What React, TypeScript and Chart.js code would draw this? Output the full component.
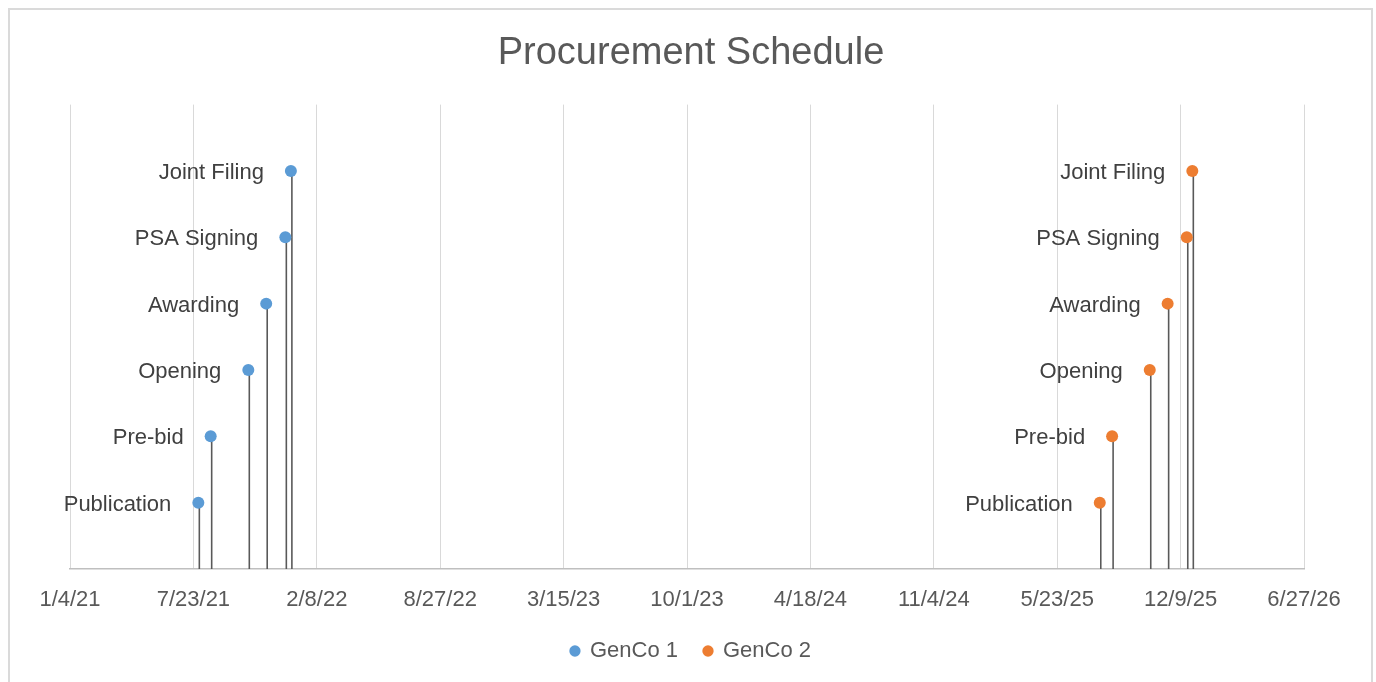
import React, { useEffect, useRef } from 'react';
import { Chart, registerables } from 'chart.js';

Chart.register(...registerables);

const milestones = ['Publication', 'Pre-bid', 'Opening', 'Awarding', 'PSA Signing', 'Joint Filing'];
const milestoneLevels = [1, 2, 3, 4, 5, 6];
const genco1Dates = ['2021-07-31', '2021-08-20', '2021-10-20', '2021-11-18', '2021-12-19', '2021-12-28'];
const genco2Dates = ['2025-07-31', '2025-08-20', '2025-10-20', '2025-11-18', '2025-12-19', '2025-12-28'];
const tickLabels = ['1/4/21', '7/23/21', '2/8/22', '8/27/22', '3/15/23', '10/1/23', '4/18/24', '11/4/24', '5/23/25', '12/9/25', '6/27/26'];
const seriesNames = ['GenCo 1', 'GenCo 2'];
const seriesColors = ['#5B9BD5', '#ED7D31'];

const FONT = '"Liberation Sans", Arial, sans-serif';

function isoToDay(s: string): number {
  const [y, m, d] = s.split('-').map(Number);
  return Date.UTC(y, m - 1, d) / 86400000;
}
function mdyToDay(s: string): number {
  const [m, d, y] = s.split('/').map(Number);
  return Date.UTC(2000 + y, m - 1, d) / 86400000;
}

const tickDays = tickLabels.map(mdyToDay);

const dropLines = {
  id: 'dropLines',
  beforeDatasetsDraw(chart: any) {
    const { ctx, chartArea } = chart;
    ctx.save();
    ctx.strokeStyle = '#595959';
    ctx.lineWidth = 1.6;
    chart.data.datasets.forEach((_ds: any, i: number) => {
      const meta = chart.getDatasetMeta(i);
      meta.data.forEach((pt: any) => {
        ctx.beginPath();
        ctx.moveTo(pt.x + 1, pt.y);
        ctx.lineTo(pt.x + 1, chartArea.bottom);
        ctx.stroke();
      });
    });
    ctx.restore();
  },
};

const pointLabels = {
  id: 'pointLabels',
  afterDatasetsDraw(chart: any) {
    const { ctx } = chart;
    ctx.save();
    ctx.font = `22px ${FONT}`;
    ctx.fillStyle = '#404040';
    ctx.textAlign = 'right';
    ctx.textBaseline = 'middle';
    chart.data.datasets.forEach((_ds: any, i: number) => {
      const meta = chart.getDatasetMeta(i);
      meta.data.forEach((pt: any, j: number) => {
        ctx.fillText(milestones[j], pt.x - 27, pt.y + 2);
      });
    });
    ctx.restore();
  },
};

export default function App() {
  const ref = useRef<HTMLCanvasElement | null>(null);

  useEffect(() => {
    if (!ref.current) return;
    const seriesDates = [genco1Dates, genco2Dates];
    const chart = new Chart(ref.current, {
      type: 'scatter',
      data: {
        datasets: seriesNames.map((name, i) => ({
          label: name,
          data: seriesDates[i].map((d, j) => ({ x: isoToDay(d), y: milestoneLevels[j] })),
          backgroundColor: seriesColors[i],
          borderColor: seriesColors[i],
          borderWidth: 0,
          pointRadius: 6,
          pointHoverRadius: 6,
          pointStyle: 'circle',
        })),
      },
      options: {
        animation: false,
        responsive: true,
        maintainAspectRatio: false,
        layout: { padding: { left: 60, right: 59, top: 0, bottom: 10 } },
        scales: {
          x: {
            type: 'linear',
            min: tickDays[0],
            max: tickDays[tickDays.length - 1],
            afterBuildTicks: (scale: any) => {
              scale.ticks = tickDays.map((v) => ({ value: v }));
            },
            afterFit: (scale: any) => {
              scale.height = 45;
            },
            ticks: {
              autoSkip: false,
              maxRotation: 0,
              padding: 18,
              color: '#595959',
              font: { family: FONT, size: 22 },
              callback: (_v: any, idx: number) => tickLabels[idx],
            },
            grid: { color: '#D9D9D9', lineWidth: 1, drawTicks: false },
            border: { display: true, color: '#BFBFBF', width: 1.5 },
          },
          y: {
            type: 'linear',
            position: 'right',
            min: 0,
            max: 7,
            ticks: { display: false },
            grid: { display: false },
            border: { display: false },
            afterFit: (scale: any) => {
              scale.width = 8;
            },
          },
        },
        plugins: {
          title: {
            display: true,
            text: 'Procurement Schedule',
            color: '#595959',
            font: { family: FONT, size: 38, weight: 'normal' },
            padding: { top: 21, bottom: 28 },
          },
          legend: {
            display: true,
            position: 'bottom',
            labels: {
              usePointStyle: true,
              pointStyle: 'circle',
              boxWidth: 8,
              boxHeight: 8,
              padding: 26,
              color: '#595959',
              font: { family: FONT, size: 22 },
            },
          },
          tooltip: { enabled: false },
        },
      },
      plugins: [dropLines, pointLabels],
    });
    return () => chart.destroy();
  }, []);

  return (
    <div
      style={{
        position: 'fixed',
        left: 8,
        top: 8,
        width: 1361,
        height: 672,
        borderTop: '2px solid #DADADA',
        borderLeft: '2px solid #DADADA',
        borderRight: '2px solid #DADADA',
        background: '#FFFFFF',
      }}
    >
      <canvas ref={ref} />
    </div>
  );
}
